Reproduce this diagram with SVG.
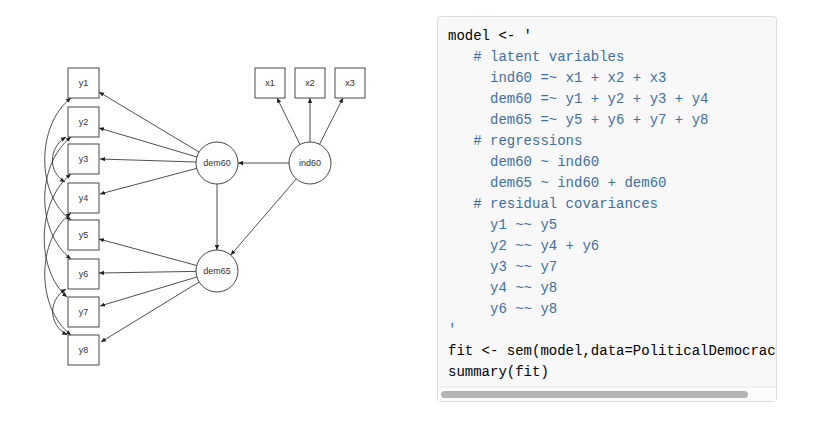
<svg xmlns="http://www.w3.org/2000/svg" width="819" height="432" viewBox="0 0 819 432">
<style>
.box{fill:#fff;stroke:#333;stroke-width:0.9}
.lat{fill:#fff;stroke:#333;stroke-width:0.9}
.lbl{font-family:"Liberation Sans",Arial,sans-serif;font-size:9px;fill:#333;text-anchor:middle}
.e{fill:none;stroke:#222;stroke-width:0.8;marker-end:url(#ah)}
.cv{fill:none;stroke:#222;stroke-width:0.8;marker-start:url(#ah2);marker-end:url(#ah)}
.code{font-family:"Liberation Mono","DejaVu Sans Mono",monospace;font-size:14px;white-space:pre}
.k{fill:#000}
.s{fill:#4070a0}
</style>
<defs>
<marker id="ah" markerUnits="userSpaceOnUse" markerWidth="6" markerHeight="5" refX="5" refY="2.5" orient="auto">
<path d="M0,0.3 L5,2.5 L0,4.7 Z" fill="#222"/>
</marker>
<marker id="ah2" markerUnits="userSpaceOnUse" markerWidth="6" markerHeight="5" refX="0" refY="2.5" orient="auto">
<path d="M5,0.3 L0,2.5 L5,4.7 Z" fill="#222"/>
</marker>
<clipPath id="cp"><rect x="438" y="18" width="338" height="369"/></clipPath>
</defs>
<rect width="819" height="432" fill="#fff"/>

<g id="connectors">
<path class="e" d="M199,152 L99,92"/>
<path class="e" d="M197,157 L99,128"/>
<path class="e" d="M196,162 L100,159"/>
<path class="e" d="M196.7,168.4 L100,194"/>
<path class="e" d="M196.7,265.5 L99,239"/>
<path class="e" d="M196,271.4 L99,273"/>
<path class="e" d="M196.9,277 L100,306"/>
<path class="e" d="M199,282 L101,342"/>
<path class="e" d="M289,163 L238,163"/>
<path class="e" d="M217,184 L217,250"/>
<path class="e" d="M296.3,178.9 L230.7,255.1"/>
<path class="e" d="M300,144.5 L277,98"/>
<path class="e" d="M310,142 L310,98"/>
<path class="e" d="M319.5,144.3 L343,98"/>
<path class="cv" d="M71,98 C36,125 36,195 71,220"/>
<path class="cv" d="M66,137 C48,148 48,172 65,182"/>
<path class="cv" d="M71,137 C36,165 36,232 71,259"/>
<path class="cv" d="M71,174 C36,202 36,270 67,297"/>
<path class="cv" d="M71,213 C36,240 36,308 71,335"/>
<path class="cv" d="M66,289 C48,300 48,324 67,335"/>
</g>

<g id="y1"><rect class="box" x="68" y="68" width="31" height="30"/><text class="lbl" x="83.5" y="86">y1</text></g>
<g id="y2"><rect class="box" x="68" y="107" width="31" height="30"/><text class="lbl" x="83.5" y="125">y2</text></g>
<g id="y3"><rect class="box" x="68" y="144" width="31" height="30"/><text class="lbl" x="83.5" y="162">y3</text></g>
<g id="y4"><rect class="box" x="68" y="183" width="31" height="30"/><text class="lbl" x="83.5" y="201">y4</text></g>
<g id="y5"><rect class="box" x="68" y="220" width="31" height="30"/><text class="lbl" x="83.5" y="238">y5</text></g>
<g id="y6"><rect class="box" x="68" y="259" width="31" height="30"/><text class="lbl" x="83.5" y="277">y6</text></g>
<g id="y7"><rect class="box" x="68" y="297" width="31" height="30"/><text class="lbl" x="83.5" y="315">y7</text></g>
<g id="y8"><rect class="box" x="68" y="335" width="31" height="30"/><text class="lbl" x="83.5" y="353">y8</text></g>
<g id="x1"><rect class="box" x="255" y="68" width="30" height="30"/><text class="lbl" x="270" y="86">x1</text></g>
<g id="x2"><rect class="box" x="295" y="68" width="30" height="30"/><text class="lbl" x="310" y="86">x2</text></g>
<g id="x3"><rect class="box" x="335" y="68" width="30" height="30"/><text class="lbl" x="350" y="86">x3</text></g>
<g id="dem60"><circle class="lat" cx="217" cy="163" r="21"/><text class="lbl" x="217" y="166">dem60</text></g>
<g id="ind60"><circle class="lat" cx="310" cy="163" r="21"/><text class="lbl" x="310" y="166">ind60</text></g>
<g id="dem65"><circle class="lat" cx="217" cy="271" r="21"/><text class="lbl" x="217" y="274">dem65</text></g>

<g id="code-panel">
<rect x="437.5" y="16.5" width="339" height="385" rx="3" fill="#f8f8f8" stroke="#dcdcdc"/>
<rect x="438" y="387" width="338" height="14" fill="#fbfbfb"/>
<line x1="438" y1="387" x2="776" y2="387" stroke="#e6e6e6"/>
<rect x="441" y="391" width="307" height="7" rx="3.5" fill="#b4b4b4"/>
<g clip-path="url(#cp)" class="code">
<text class="k" x="448" y="40">model &lt;- '</text>
<text class="s" x="473.2" y="61"># latent variables</text>
<text class="s" x="490" y="82">ind60 =~ x1 + x2 + x3</text>
<text class="s" x="490" y="103">dem60 =~ y1 + y2 + y3 + y4</text>
<text class="s" x="490" y="124">dem65 =~ y5 + y6 + y7 + y8</text>
<text class="s" x="473.2" y="145"># regressions</text>
<text class="s" x="490" y="166">dem60 ~ ind60</text>
<text class="s" x="490" y="187">dem65 ~ ind60 + dem60</text>
<text class="s" x="473.2" y="208"># residual covariances</text>
<text class="s" x="490" y="229">y1 ~~ y5</text>
<text class="s" x="490" y="250">y2 ~~ y4 + y6</text>
<text class="s" x="490" y="271">y3 ~~ y7</text>
<text class="s" x="490" y="292">y4 ~~ y8</text>
<text class="s" x="490" y="313">y6 ~~ y8</text>
<text class="s" x="448" y="334">'</text>
<text class="k" x="448" y="355">fit &lt;- sem(model,data=PoliticalDemocracy)</text>
<text class="k" x="448" y="376">summary(fit)</text>
</g>
</g>
</svg>
